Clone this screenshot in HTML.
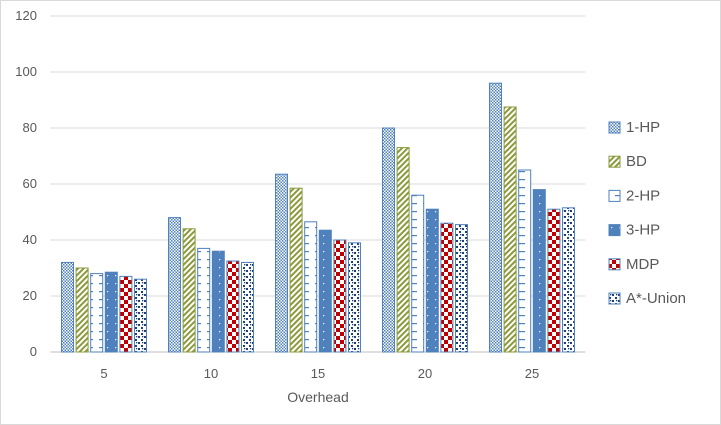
<!DOCTYPE html>
<html><head><meta charset="utf-8"><style>
body{margin:0;background:#fff;}
svg{display:block;font-family:"Liberation Sans",sans-serif;}
</style></head><body>
<svg width="721" height="425" viewBox="0 0 721 425">
<defs>
<pattern id="p0" width="3" height="3" patternUnits="userSpaceOnUse"><rect width="3" height="3" fill="#fff"/><rect width="1.5" height="1.5" fill="#4f81bd"/><rect x="1.5" y="1.5" width="1.5" height="1.5" fill="#4f81bd"/></pattern>
<pattern id="p1" width="4" height="4" patternUnits="userSpaceOnUse" patternTransform="rotate(45)"><rect width="4" height="4" fill="#fff"/><rect width="2" height="4" fill="#8a9a3b"/></pattern>
<pattern id="p2" width="12" height="8" patternUnits="userSpaceOnUse"><rect width="12" height="8" fill="#fff"/><rect x="3" y="3" width="6" height="1.2" fill="#4f81bd"/></pattern>
<pattern id="p3" width="8" height="8" patternUnits="userSpaceOnUse"><rect width="8" height="8" fill="#4f81bd"/><rect x="3" y="3" width="1.2" height="1.2" fill="#fff"/></pattern>
<pattern id="p4" width="8" height="8" patternUnits="userSpaceOnUse"><rect width="8" height="8" fill="#fff"/><rect width="4" height="4" fill="#c00000"/><rect x="4" y="4" width="4" height="4" fill="#c00000"/></pattern>
<pattern id="p5" width="6" height="6" patternUnits="userSpaceOnUse"><rect width="6" height="6" fill="#fff"/><rect x="0" y="0" width="2" height="2" fill="#1f3f7a"/><rect x="3" y="3" width="2" height="2" fill="#1f3f7a"/><rect x="4" y="0" width="1.3" height="1.3" fill="#1f3f7a"/></pattern>
</defs>
<rect x="0.5" y="0.5" width="720" height="424" fill="#fff" stroke="#d9d9d9"/>
<g id="grid"></g><g id="bars"></g><g id="legend"></g>
<text x="318" y="402" text-anchor="middle" font-size="14" fill="#595959">Overhead</text>
</svg>
<script>
const categories=["5","10","15","20","25"];
const seriesNames=["1-HP","BD","2-HP","3-HP","MDP","A*-Union"];
const s1HP=[32,48,63.5,80,96];
const sBD=[30,44,58.5,73,87.5];
const s2HP=[28,37,46.5,56,65];
const s3HP=[28.5,36,43.5,51,58];
const sMDP=[27,32.5,40,46,51];
const sAU=[26,32,39,45.5,51.5];
const yTicks=[0,20,40,60,80,100,120];
const series=[s1HP,sBD,s2HP,s3HP,sMDP,sAU];
const NS="http://www.w3.org/2000/svg";
const x0=50.5,x1=585.5,y0=352,y1=16,yMax=120;
const y=v=>y0-(y0-y1)*v/yMax;
const band=(x1-x0)/categories.length;
const grid=document.getElementById('grid'),bars=document.getElementById('bars'),leg=document.getElementById('legend');
function mk(t,a,p){const e=document.createElementNS(NS,t);for(const k in a)e.setAttribute(k,a[k]);p.appendChild(e);return e;}
yTicks.forEach(t=>{
 const l=mk('line',{x1:x0,x2:x1,y1:y(t),y2:y(t),stroke:t===0?'#bfbfbf':'#d9d9d9'},grid);
 
 
 const tx=mk('text',{x:37,y:y(t)+4,'text-anchor':'end','font-size':13,fill:'#595959'},grid);
 tx.textContent=t;
 
 
});
const bw=12,step=14.6;
categories.forEach((c,i)=>{
 const cx=x0+band*(i+0.5);
 const tx=mk('text',{x:cx,y:378,'text-anchor':'middle','font-size':13,fill:'#595959'},grid);
 tx.textContent=c;
 
 
 series.forEach((s,j)=>{
  const bx=cx-(step*5+bw)/2+j*step;
  const r=mk('rect',{x:bx,y:y(s[i]),width:bw,height:y0-y(s[i]),fill:'url(#p'+j+')',stroke:j===1?'#8a9a3b':'#4f81bd','stroke-width':1},bars);
  
  
 });
});
seriesNames.forEach((n,j)=>{
 const ly=127+j*34.2;
 const g=mk('g',{},leg);
 
 
 mk('rect',{x:609,y:ly-5,width:11,height:11,fill:'url(#p'+j+')',stroke:j===1?'#8a9a3b':'#4f81bd'},g);
 const t=mk('text',{x:626,y:ly+5,'font-size':15,fill:'#595959'},g);
 t.textContent=n;
});
</script>
</body></html>
